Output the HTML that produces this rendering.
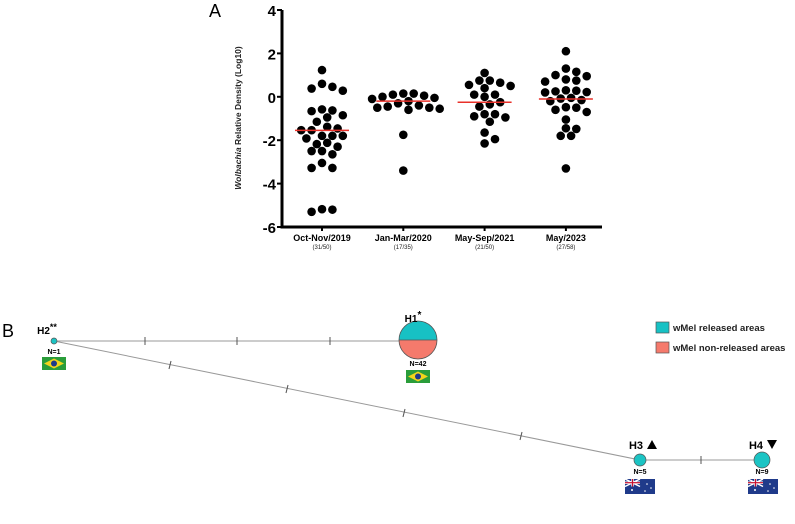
<!DOCTYPE html>
<html><head><meta charset="utf-8"><style>
body{margin:0;background:#fff;}
svg{display:block;font-family:"Liberation Sans",Arial,sans-serif;}
</style></head><body>
<svg id="fig" width="795" height="524" viewBox="0 0 795 524">
<text x="209" y="17" font-size="18">A</text>
<g id="chart"></g>
<text x="2" y="337" font-size="18">B</text>
<g id="net">
  <line x1="54" y1="341" x2="400" y2="341" stroke="#999" stroke-width="1"/>
  <line x1="54" y1="341" x2="640" y2="460" stroke="#999" stroke-width="1"/>
  <line x1="640" y1="460" x2="762" y2="460" stroke="#999" stroke-width="1"/>
  <g stroke="#555" stroke-width="1">
    <line x1="145" y1="337" x2="145" y2="345"/><line x1="237" y1="337" x2="237" y2="345"/><line x1="330" y1="337" x2="330" y2="345"/>
    <line x1="171" y1="361" x2="169" y2="369"/><line x1="288" y1="385" x2="286" y2="393"/><line x1="405" y1="409" x2="403" y2="417"/><line x1="522" y1="432" x2="520" y2="440"/>
    <line x1="701" y1="456" x2="701" y2="464"/>
  </g>
  <circle cx="54" cy="341" r="3" fill="#1cc4c4" stroke="#555" stroke-width="0.7"/>
  <text x="47" y="334" font-size="10" font-weight="bold" text-anchor="middle">H2<tspan dy="-4" font-size="9">**</tspan></text>
  <text x="54" y="354" font-size="7" font-weight="bold" text-anchor="middle">N=1</text>
  <g><rect x="42" y="357" width="24" height="13" fill="#2a9d3a"/><polygon points="54,358.5 64,363.5 54,368.5 44,363.5" fill="#f2d41c"/><circle cx="54" cy="363.5" r="3" fill="#1f3a8a"/></g>
  <path d="M399,340 A19,19 0 0 1 437,340 Z" fill="#17c1c4"/>
  <path d="M399,340 A19,19 0 0 0 437,340 Z" fill="#f57a6c"/>
  <circle cx="418" cy="340" r="19" fill="none" stroke="#555" stroke-width="0.8"/>
  <line x1="399" y1="340" x2="437" y2="340" stroke="#555" stroke-width="0.8"/>
  <text x="413" y="322" font-size="10" font-weight="bold" text-anchor="middle">H1<tspan dy="-4" font-size="10">*</tspan></text>
  <text x="418" y="366" font-size="7" font-weight="bold" text-anchor="middle">N=42</text>
  <g><rect x="406" y="370" width="24" height="13" fill="#2a9d3a"/><polygon points="418,371.5 428,376.5 418,381.5 408,376.5" fill="#f2d41c"/><circle cx="418" cy="376.5" r="3" fill="#1f3a8a"/></g>
  <circle cx="640" cy="460" r="6" fill="#1cc4c4" stroke="#555" stroke-width="0.7"/>
  <text x="636" y="449" font-size="11" font-weight="bold" text-anchor="middle">H3</text>
  <polygon points="647,449 652,440 657,449" fill="#000"/>
  <text x="640" y="474" font-size="7" font-weight="bold" text-anchor="middle">N=5</text>
  <g><rect x="625" y="479" width="30" height="15" fill="#1f3a8a"/><line x1="625" y1="479" x2="640" y2="486.5" stroke="#fff" stroke-width="1.5"/><line x1="640" y1="479" x2="625" y2="486.5" stroke="#fff" stroke-width="1.5"/><line x1="625" y1="482.7" x2="640" y2="482.7" stroke="#fff" stroke-width="2.5"/><line x1="632.5" y1="479" x2="632.5" y2="486.5" stroke="#fff" stroke-width="2.5"/><line x1="625" y1="482.7" x2="640" y2="482.7" stroke="#c8102e" stroke-width="1.2"/><line x1="632.5" y1="479" x2="632.5" y2="486.5" stroke="#c8102e" stroke-width="1.2"/><circle cx="632" cy="490" r="1" fill="#fff"/><circle cx="647" cy="484" r="0.8" fill="#fff"/><circle cx="651" cy="488" r="0.8" fill="#fff"/><circle cx="645" cy="491" r="0.8" fill="#fff"/></g>
  <circle cx="762" cy="460" r="8" fill="#1cc4c4" stroke="#555" stroke-width="0.7"/>
  <text x="756" y="449" font-size="11" font-weight="bold" text-anchor="middle">H4</text>
  <polygon points="767,440 777,440 772,449" fill="#000"/>
  <text x="762" y="474" font-size="7" font-weight="bold" text-anchor="middle">N=9</text>
  <g><rect x="748" y="479" width="30" height="15" fill="#1f3a8a"/><line x1="748" y1="479" x2="763" y2="486.5" stroke="#fff" stroke-width="1.5"/><line x1="763" y1="479" x2="748" y2="486.5" stroke="#fff" stroke-width="1.5"/><line x1="748" y1="482.7" x2="763" y2="482.7" stroke="#fff" stroke-width="2.5"/><line x1="755.5" y1="479" x2="755.5" y2="486.5" stroke="#fff" stroke-width="2.5"/><line x1="748" y1="482.7" x2="763" y2="482.7" stroke="#c8102e" stroke-width="1.2"/><line x1="755.5" y1="479" x2="755.5" y2="486.5" stroke="#c8102e" stroke-width="1.2"/><circle cx="755" cy="490" r="1" fill="#fff"/><circle cx="770" cy="484" r="0.8" fill="#fff"/><circle cx="774" cy="488" r="0.8" fill="#fff"/><circle cx="768" cy="491" r="0.8" fill="#fff"/></g>
</g>
<g>
  <rect x="656" y="322" width="13" height="11" fill="#17c1c4" stroke="#555" stroke-width="0.7"/>
  <text x="673" y="331" font-size="9.5" font-weight="bold" fill="#222">wMel released areas</text>
  <rect x="656" y="342" width="13" height="11" fill="#f57a6c" stroke="#555" stroke-width="0.7"/>
  <text x="673" y="351" font-size="9.5" font-weight="bold" fill="#222">wMel non-released areas</text>
</g>
</svg>
<script>
const categories = ["Oct-Nov/2019","Jan-Mar/2020","May-Sep/2021","May/2023"];
const subLabels = ["(31/50)","(17/35)","(21/50)","(27/58)"];
const yTicks = [4,2,0,-2,-4,-6];
const g1 = [1.23,0.46,0.28,0.38,0.6,-0.58,-0.66,-0.63,-0.95,-0.85,-1.15,-1.38,-1.54,-1.54,-1.46,-1.8,-1.8,-1.92,-1.8,-2.18,-2.12,-2.3,-2.5,-2.5,-2.65,-3.05,-3.28,-3.28,-5.18,-5.3,-5.2];
const g2 = [0.05,0.15,0.15,0.1,0,-0.05,-0.1,-0.2,-0.3,-0.5,-0.45,-0.5,-0.6,-0.55,-0.4,-1.75,-3.4];
const g3 = [1.1,0.75,0.65,0.75,0.5,0.4,0.55,0.1,0.1,0,-0.25,-0.35,-0.45,-0.8,-0.8,-0.9,-0.95,-1.15,-1.65,-1.95,-2.15];
const g4 = [2.1,1.3,1.0,0.95,0.8,0.7,0.75,1.15,0.25,0.2,0.3,0.22,0.28,-0.05,-0.15,-0.08,-0.2,-0.5,-0.48,-0.6,-0.7,-1.05,-1.45,-1.48,-1.8,-1.8,-3.3];
const medians = [-1.55,-0.2,-0.25,-0.1];
const groups = [g1,g2,g3,g4];

const NS="http://www.w3.org/2000/svg";
const chart=document.getElementById('chart');
const X0=282, X1=602, Ytop=10, Ybot=227;
function yScale(v){return Ytop+(4-v)/10*(Ybot-Ytop);}
function xScale(i){return 322+i*81.3;}
function mk(tag,attrs,parent){const e=document.createElementNS(NS,tag);for(const k in attrs)e.setAttribute(k,attrs[k]);(parent||chart).appendChild(e);return e;}

let ax=mk('line',{x1:X0,y1:Ytop,x2:X0,y2:Ybot+1.5,stroke:'#000','stroke-width':3});


let bx=mk('line',{x1:X0-1.5,y1:Ybot,x2:X1,y2:Ybot,stroke:'#000','stroke-width':3});


yTicks.forEach(t=>{
  const y=yScale(t);
  mk('line',{x1:X0-5,y1:y,x2:X0,y2:y,stroke:'#000','stroke-width':2});
  const tx=mk('text',{x:X0-6,y:y+6,'font-size':15,'font-weight':'bold','text-anchor':'end'});
  tx.textContent=t;
  
  
});
const yl=mk('text',{x:0,y:0,'font-size':8.5,'font-weight':'bold',fill:'#222','text-anchor':'middle',transform:'translate(241,118) rotate(-90)'});
yl.innerHTML='<tspan font-style="italic">Wolbachia</tspan> Relative Density (Log10)';



groups.forEach((vals,i)=>{
  const cx=xScale(i);
  mk('line',{x1:cx,y1:Ybot,x2:cx,y2:Ybot+4,stroke:'#000','stroke-width':2});
  const lab=mk('text',{x:cx,y:Ybot+14,'font-size':9,'font-weight':'bold','text-anchor':'middle'});
  lab.textContent=categories[i];
  
  
  const sl=mk('text',{x:cx,y:Ybot+22,'font-size':6,'text-anchor':'middle',fill:'#222'});
  sl.textContent=subLabels[i];
  
  
  const placed=[];
  const sorted=vals.map(v=>v).sort((a,b)=>b-a);
  const D=8.6;
  sorted.forEach(v=>{
    const y=yScale(v);
    let off=0;
    for(let k=0;k<40;k++){
      const cand=(k%2?1:-1)*Math.ceil(k/2)*5.2;
      if(placed.every(p=>Math.hypot(p[0]-(cx+cand),p[1]-y)>=D)){off=cand;break;}
    }
    placed.push([cx+off,y]);
    const c=mk('circle',{cx:cx+off,cy:y,r:4.3,fill:'#000'});
    
    
  });
  const m=mk('line',{x1:cx-27,y1:yScale(medians[i]),x2:cx+27,y2:yScale(medians[i]),stroke:'#e8312a','stroke-width':1.5});
  
  
});
</script>
</body></html>
